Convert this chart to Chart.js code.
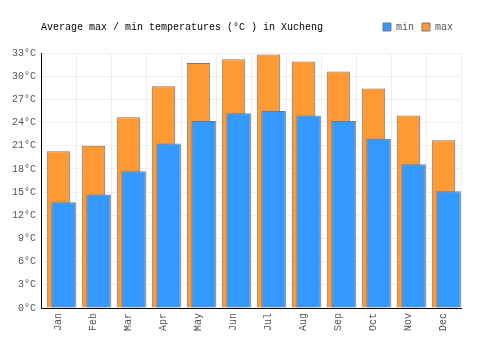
<!DOCTYPE html>
<html>
<head>
<meta charset="utf-8">
<script src="https://cdn.jsdelivr.net/npm/chart.js@4/dist/chart.umd.min.js"></script>
<style>
  body { margin: 0; background: #fff; }
  #wrap { width: 500px; height: 350px; }
</style>
</head>
<body>
<div id="wrap"><canvas id="myChart"></canvas></div>
<script>
// data
let months = ["Jan","Feb","Mar","Apr","May","Jun","Jul","Aug","Sep","Oct","Nov","Dec"];
let minTemps = [13.7,14.7,17.7,21.3,24.2,25.2,25.5,24.9,24.2,21.9,18.6,15.1];
let maxTemps = [20.3,21.0,24.7,28.7,31.7,32.2,32.8,31.9,30.6,28.4,24.9,21.7];
let titleText = "Average max / min temperatures (°C ) in Xucheng";

const monoFont = { family: "'Liberation Mono', monospace", size: 10 };

// the min bars sit a bit right of the max bars
const shiftMinBars = {
  id: 'shiftMinBars',
  afterDatasetsUpdate(chart) {
    let step = chart.scales.x.width / months.length;
    chart.getDatasetMeta(0).data.forEach((bar) => { bar.x += step * 0.146; });
  }
};

// extra room under the legend
const legendGap = {
  id: 'legendGap',
  beforeInit(chart) {
    const fit = chart.legend.fit;
    chart.legend.fit = function () {
      fit.bind(chart.legend)();
      this.height += 11;
    };
  }
};

// title drawn at the left edge of the plot, on the legend's line
const leftTitle = {
  id: 'leftTitle',
  afterDraw(chart) {
    let ctx = chart.ctx;
    let lg = chart.legend;
    ctx.save();
    ctx.font = "10px 'Liberation Mono', monospace";
    ctx.fillStyle = '#000';
    ctx.textBaseline = 'middle';
    ctx.fillText(titleText, chart.chartArea.left, lg.top + 13);
    ctx.restore();
  }
};

const config = {
  type: 'bar',
  data: {
    labels: months,
    datasets: [{
      label: 'min',
      data: minTemps,
      backgroundColor: '#3399ff',
      borderColor: '#777777',
      borderWidth: 1,
      barPercentage: 0.7,
      categoryPercentage: 1,
      grouped: false
    },
    {
      label: 'max',
      data: maxTemps,
      backgroundColor: '#ff9933',
      borderColor: '#777777',
      borderWidth: 1,
      barPercentage: 0.67,
      categoryPercentage: 1,
      grouped: false
    }]
  },
  options: {
    responsive: true,
    maintainAspectRatio: false,
    animation: false,
    layout: { padding: { left: 0, right: 39, top: 14, bottom: 0 } },
    plugins: {
      title: { display: false },
      tooltip: { enabled: false },
      legend: {
        position: 'top',
        align: 'end',
        labels: {
          boxWidth: 8,
          boxHeight: 8,
          padding: 8,
          color: '#555',
          font: monoFont
        }
      }
    },
    scales: {
      x: {
        grid: { color: '#eeeeee', drawTicks: false },
        border: { color: '#000', width: 1 },
        ticks: {
          color: '#555',
          font: monoFont,
          minRotation: 90,
          maxRotation: 90,
          padding: 5
        },
        afterFit(scale) { scale.height = 42; }
      },
      y: {
        min: 0,
        max: 33,
        grid: { color: '#eeeeee', drawTicks: false },
        border: { color: '#000', width: 1 },
        ticks: {
          stepSize: 3,
          color: '#555',
          font: monoFont,
          padding: 5,
          callback: (v) => v + '°C'
        },
        afterFit(scale) { scale.width = 41; }
      }
    }
  },
  plugins: [legendGap, shiftMinBars, leftTitle]
};

const ctx = document.getElementById('myChart').getContext('2d');
const myChart = new Chart(ctx, config);
</script>
</body>
</html>
